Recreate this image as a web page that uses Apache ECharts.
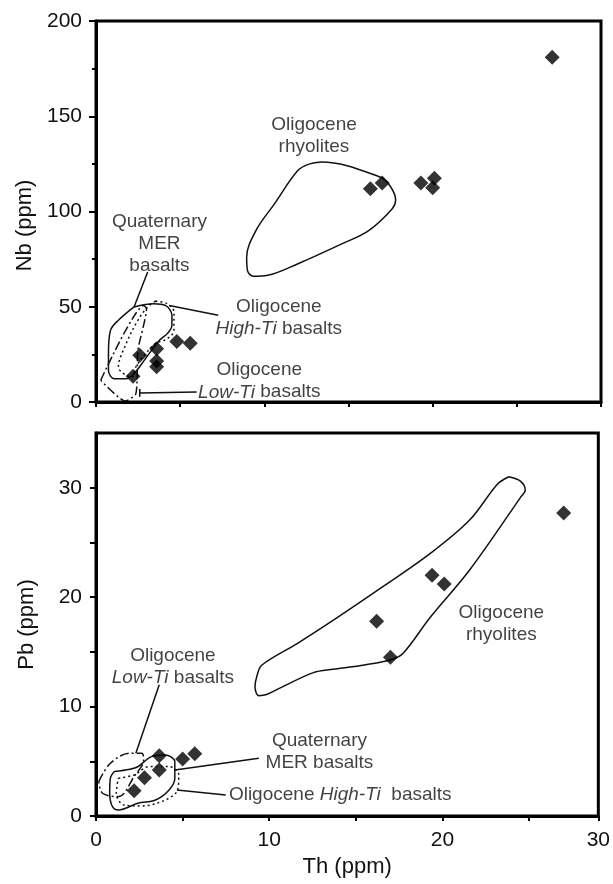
<!DOCTYPE html>
<html><head><meta charset="utf-8">
<script src="https://cdn.jsdelivr.net/npm/echarts@6/dist/echarts.min.js"></script>
<style>html,body{margin:0;padding:0;background:#fff}#c{width:613px;height:884px}</style>
</head><body><div id="c"></div>
<script>
// ---- Top panel (Nb vs Th) sample points ----
const thNb = [27.1, 16.3, 17.0, 19.3, 20.1, 20.0, 2.2, 2.6, 3.6, 3.6, 3.6, 4.8, 5.6];
const nb   = [181, 112, 115, 115, 117.5, 112.5, 13.5, 24.5, 28, 21.5, 18.5, 31.8, 30.8];
// ---- Bottom panel (Pb vs Th) sample points ----
const thPb = [27.0, 19.4, 20.1, 16.2, 17.0, 2.2, 2.8, 3.65, 3.65, 5.0, 5.7];
const pb   = [27.7, 22.0, 21.2, 17.8, 14.5, 2.3, 3.5, 5.5, 4.2, 5.2, 5.7];

// ---- Field outlines, top panel ----
const rhyTopX = [12.7, 13.4, 16.9, 17.5, 17.8, 17.6, 16.2, 14.6, 12.0, 10.2, 9.35, 9.0, 8.95, 9.5, 10.6, 12.0, 12.7];
const rhyTopY = [125, 126, 118, 113, 106, 101.5, 90, 83, 72.6, 66.5, 66, 69, 76, 90, 104, 121.6, 125];
const merTopX = [2.26, 3.42, 4.12, 4.51, 4.51, 4.23, 3.77, 3.3, 2.72, 2.26, 1.79, 1.09, 0.74, 0.74, 0.86, 1.33, 2.26];
const merTopY = [49.9, 51.6, 50.7, 45.5, 40.2, 35.9, 32.4, 27.1, 20.1, 14.9, 12.2, 12.2, 16.6, 25.4, 37.6, 42.9, 49.9];
const hiTopX = [3.53, 4.23, 4.63, 4.63, 4.23, 3.53, 2.95, 2.37, 2.14, 1.33, 1.79, 2.49, 3.07, 3.53];
const hiTopY = [53.0, 51.6, 47.2, 37.6, 33.2, 30.6, 25.4, 18.4, 13.1, 18.4, 30.6, 42.9, 49.9, 53.0];
const loTopX = [0.28, 2.84, 3.0, 2.49, 2.37, 1.74, 0.28];
const loTopY = [11.4, 50.7, 49.0, 27.1, 4.4, 0.5, 11.4];
// pointer lines, top
const merPtrTopX = [3.07, 2.26], merPtrTopY = [68.2, 49.9];
const hiPtrTopX = [7.26, 4.35], hiPtrTopY = [45.5, 50.7];
const loPtrTopX = [5.98, 2.6, 2.6, 2.6], loPtrTopY = [5.2, 4.7, 6.8, 2.8];
// labels, top
const topLabelX = [12.95, 3.77, 10.86, 9.7];
const topLabelY = [139.5, 83, 44.2, 10.9];
const topLabelText = ['Oligocene\nrhyolites', 'Quaternary\nMER\nbasalts', 'Oligocene\n{i|High-Ti} basalts', 'Oligocene\n{i|Low-Ti} basalts'];

// ---- Field outlines, bottom panel ----
const rhyBotX = [23.83, 24.5, 24.78, 24.5, 21.58, 19.32, 17.75, 17.07, 15.5, 13.69, 12.56, 10.76, 9.85, 9.4, 9.18, 9.29, 9.58, 11.66, 13.9, 16.6, 19.3, 21.6, 23.16, 23.83];
const rhyBotY = [31.0, 30.6, 29.8, 29.1, 22.5, 18.2, 14.9, 14.3, 13.8, 13.4, 13.1, 11.8, 11.1, 11.0, 11.8, 12.8, 13.8, 15.8, 18.1, 21.0, 24.0, 27.1, 30.3, 31.0];
const merBotX = [1.06, 1.96, 2.41, 3.2, 3.99, 4.55, 4.55, 4.22, 3.43, 2.41, 1.29, 0.95, 0.79, 0.83, 1.06];
const merBotY = [4.06, 4.27, 4.5, 5.43, 5.58, 4.97, 3.45, 2.38, 1.46, 1.16, 0.55, 0.85, 2.08, 3.45, 4.06];
const loBotX = [0.16, 0.83, 1.96, 2.64, 2.75, 2.2, 1.29, 0.38, 0.16];
const loBotY = [3.14, 4.82, 5.74, 5.74, 5.13, 3.6, 1.77, 2.08, 3.14];
const hiBotX = [1.29, 2.19, 3.09, 4.22, 4.78, 4.71, 3.99, 2.64, 1.62, 1.17, 1.29];
const hiBotY = [3.45, 3.75, 4.52, 4.52, 3.75, 2.38, 1.46, 0.92, 1.0, 2.08, 3.45];
const loPtrBotX = [3.65, 2.3], loPtrBotY = [12.0, 5.74];
const merPtrBotX = [9.4, 4.55], merPtrBotY = [5.28, 4.2];
const hiPtrBotX = [7.49, 4.67], hiPtrBotY = [1.92, 2.38];
const botLabelX = [23.4, 4.44, 12.9, 14.1];
const botLabelY = [17.56, 13.6, 5.9, 1.92];
const botLabelText = ['Oligocene\nrhyolites', 'Oligocene\n{i|Low-Ti} basalts', 'Quaternary\nMER basalts', 'Oligocene {i|High-Ti}  basalts'];

// ---- Axis tick labels ----
const nbTicks = [0, 50, 100, 150, 200];
const pbTicks = [0, 10, 20, 30];
const thTicks = [0, 10, 20, 30];

const FONT = 'Liberation Sans, Arial, Helvetica, sans-serif';
const INK = '#111';
const zip = (xs, ys) => xs.map((x, i) => [x, ys[i]]);

function outline(xs, ys, idx, type, smooth) {
  return { type: 'line', xAxisIndex: idx, yAxisIndex: idx, data: zip(xs, ys), symbol: 'none',
    smooth: smooth === undefined ? 0.35 : smooth, silent: true, z: 2,
    lineStyle: { color: INK, width: 1.5, type: type || 'solid' } };
}
function labels(xs, ys, texts, idx) {
  return { type: 'scatter', xAxisIndex: idx, yAxisIndex: idx, symbolSize: 0, silent: true, z: 5,
    data: xs.map((x, i) => ({ value: [x, ys[i]], txt: texts[i] })),
    label: { show: true, position: 'inside', color: INK, fontSize: 19, fontFamily: FONT,
      lineHeight: 22, align: 'center',
      formatter: p => p.data.txt,
      rich: { i: { fontStyle: 'italic', fontSize: 19, fontFamily: FONT, color: INK, lineHeight: 22 } } } };
}
function points(xs, ys, idx) {
  return { type: 'scatter', xAxisIndex: idx, yAxisIndex: idx, data: zip(xs, ys), symbol: 'diamond',
    symbolSize: 15, itemStyle: { color: '#000' }, z: 4 };
}
const axisLine = { show: true, onZero: false, lineStyle: { color: '#000', width: 3 } };
const tickStyle = { color: '#000', width: 2 };
const nameStyle = { fontSize: 22, fontFamily: FONT, color: INK };

const option = {
  animation: false,
  backgroundColor: '#fff',
  grid: [
    { left: 96, top: 21, width: 505, height: 381, show: true, borderColor: '#000', borderWidth: 3 },
    { left: 96, top: 433, width: 503, height: 383, show: true, borderColor: '#000', borderWidth: 3 }
  ],
  xAxis: [
    { type: 'value', gridIndex: 0, min: 0, max: 30, interval: 5, axisLine, splitLine: { show: false },
      axisTick: { show: true, length: 5, lineStyle: tickStyle },
      axisLabel: { show: false } },
    { type: 'value', gridIndex: 1, min: 0, max: 29, interval: 5, axisLine, splitLine: { show: false },
      axisTick: { show: true, length: 5, lineStyle: tickStyle },
      axisLabel: { show: true, showMaxLabel: true, fontSize: 21, fontFamily: FONT, color: INK, margin: 14,
        formatter: v => (v >= 29 ? String(thTicks[3]) : (thTicks.indexOf(v) >= 0 ? String(v) : '')) },
      name: 'Th (ppm)', nameLocation: 'middle', nameGap: 40, nameTextStyle: nameStyle }
  ],
  yAxis: [
    { type: 'value', gridIndex: 0, min: 0, max: 200, interval: 50, axisLine, splitLine: { show: false },
      axisTick: { show: true, length: 7, lineStyle: tickStyle },
      minorTick: { show: true, splitNumber: 2, length: 4, lineStyle: tickStyle },
      axisLabel: { fontSize: 21, fontFamily: FONT, color: INK, margin: 14,
        formatter: v => (nbTicks.indexOf(v) >= 0 ? String(v) : '') },
      name: 'Nb (ppm)', nameLocation: 'middle', nameGap: 58,
      nameTextStyle: Object.assign({ padding: [0, 28, 0, 0] }, nameStyle) },
    { type: 'value', gridIndex: 1, min: 0, max: 35, interval: 5, axisLine, splitLine: { show: false },
      axisTick: { show: true, length: 6, lineStyle: tickStyle },
      axisLabel: { fontSize: 21, fontFamily: FONT, color: INK, margin: 14, showMaxLabel: false,
        formatter: v => (pbTicks.indexOf(v) >= 0 ? String(v) : '') },
      name: 'Pb (ppm)', nameLocation: 'middle', nameGap: 58, nameTextStyle: nameStyle }
  ],
  series: [
    outline(rhyTopX, rhyTopY, 0),
    outline(merTopX, merTopY, 0),
    outline(hiTopX, hiTopY, 0, [2, 3]),
    outline(loTopX, loTopY, 0, [9, 3, 2, 3], 0.2),
    outline(merPtrTopX, merPtrTopY, 0, 'solid', false),
    outline(hiPtrTopX, hiPtrTopY, 0, 'solid', false),
    outline(loPtrTopX, loPtrTopY, 0, 'solid', false),
    labels(topLabelX, topLabelY, topLabelText, 0),
    points(thNb, nb, 0),
    outline(rhyBotX, rhyBotY, 1),
    outline(merBotX, merBotY, 1),
    outline(hiBotX, hiBotY, 1, [2, 3]),
    outline(loBotX, loBotY, 1, [9, 3, 2, 3]),
    outline(loPtrBotX, loPtrBotY, 1, 'solid', false),
    outline(merPtrBotX, merPtrBotY, 1, 'solid', false),
    outline(hiPtrBotX, hiPtrBotY, 1, 'solid', false),
    labels(botLabelX, botLabelY, botLabelText, 1),
    points(thPb, pb, 1)
  ]
};
const chart = echarts.init(document.getElementById('c'), null, { renderer: 'canvas' });
chart.setOption(option);
</script></body></html>
